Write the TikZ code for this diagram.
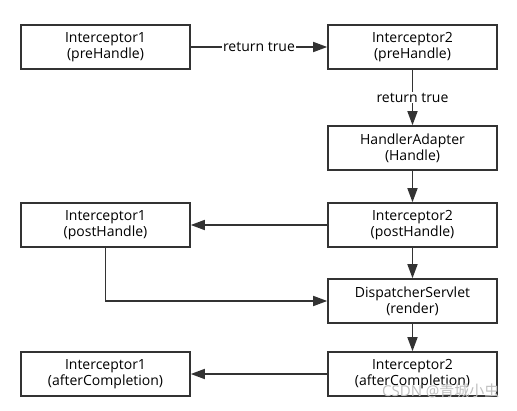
\documentclass[tikz,border=0pt]{standalone}
\usepackage{fontspec}
\setmainfont{Open Sans}
\newfontfamily\cjk{Noto Sans CJK SC}
\usetikzlibrary{arrows.meta}
\begin{document}
\begin{tikzpicture}[x=1pt,y=1pt,%
% common options for the boxes:
block/.style = {draw=black!80, line width=1.6pt, align=center,
            minimum width=169pt, minimum height=44pt, inner sep=0,
            font=\fontsize{14}{16}\selectfont},
% common options for the connectors:
link/.style = {draw=black!80, line width=1.6pt,
            -{Triangle[length=14pt,width=10pt]}},
% the labels on the connectors:
tag/.style = {fill=white, inner sep=1pt, font=\fontsize{14}{16}\selectfont}]
\useasboundingbox (0,0) rectangle (517,-410);
\node[block] (A1) at (105.5,-47)  {Interceptor1\\(preHandle)};
\node[block] (B1) at (412.5,-47)  {Interceptor2\\(preHandle)};
\node[block] (B2) at (412.5,-148) {HandlerAdapter\\(Handle)};
\node[block] (A3) at (105.5,-225) {Interceptor1\\(postHandle)};
\node[block] (B3) at (412.5,-225) {Interceptor2\\(postHandle)};
\node[block] (B4) at (412.5,-301) {DispatcherServlet\\(render)};
\node[block] (A5) at (105.5,-374) {Interceptor1\\(afterCompletion)};
\node[block] (B5) at (412.5,-374) {Interceptor2\\(afterCompletion)};
\draw[link] (A1.east) to node[tag] {return true} (B1.west);
\draw[link] (B1.south) to node[tag] {return true} (B2.north);
\draw[link] (B2.south) to (B3.north);
\draw[link] (B3.west) to (A3.east);
\draw[link] (B3.south) to (B4.north);
\draw[link] (A3.south) |- (B4.west);
\draw[link] (B4.south) to (B5.north);
\draw[link] (B5.west) to (A5.east);
\node[text=black!25, font=\fontsize{15}{17}\selectfont, anchor=east] (mark)
  at (503,-391) {CSDN @{\cjk 青城小虫}};
\end{tikzpicture}
\end{document}
